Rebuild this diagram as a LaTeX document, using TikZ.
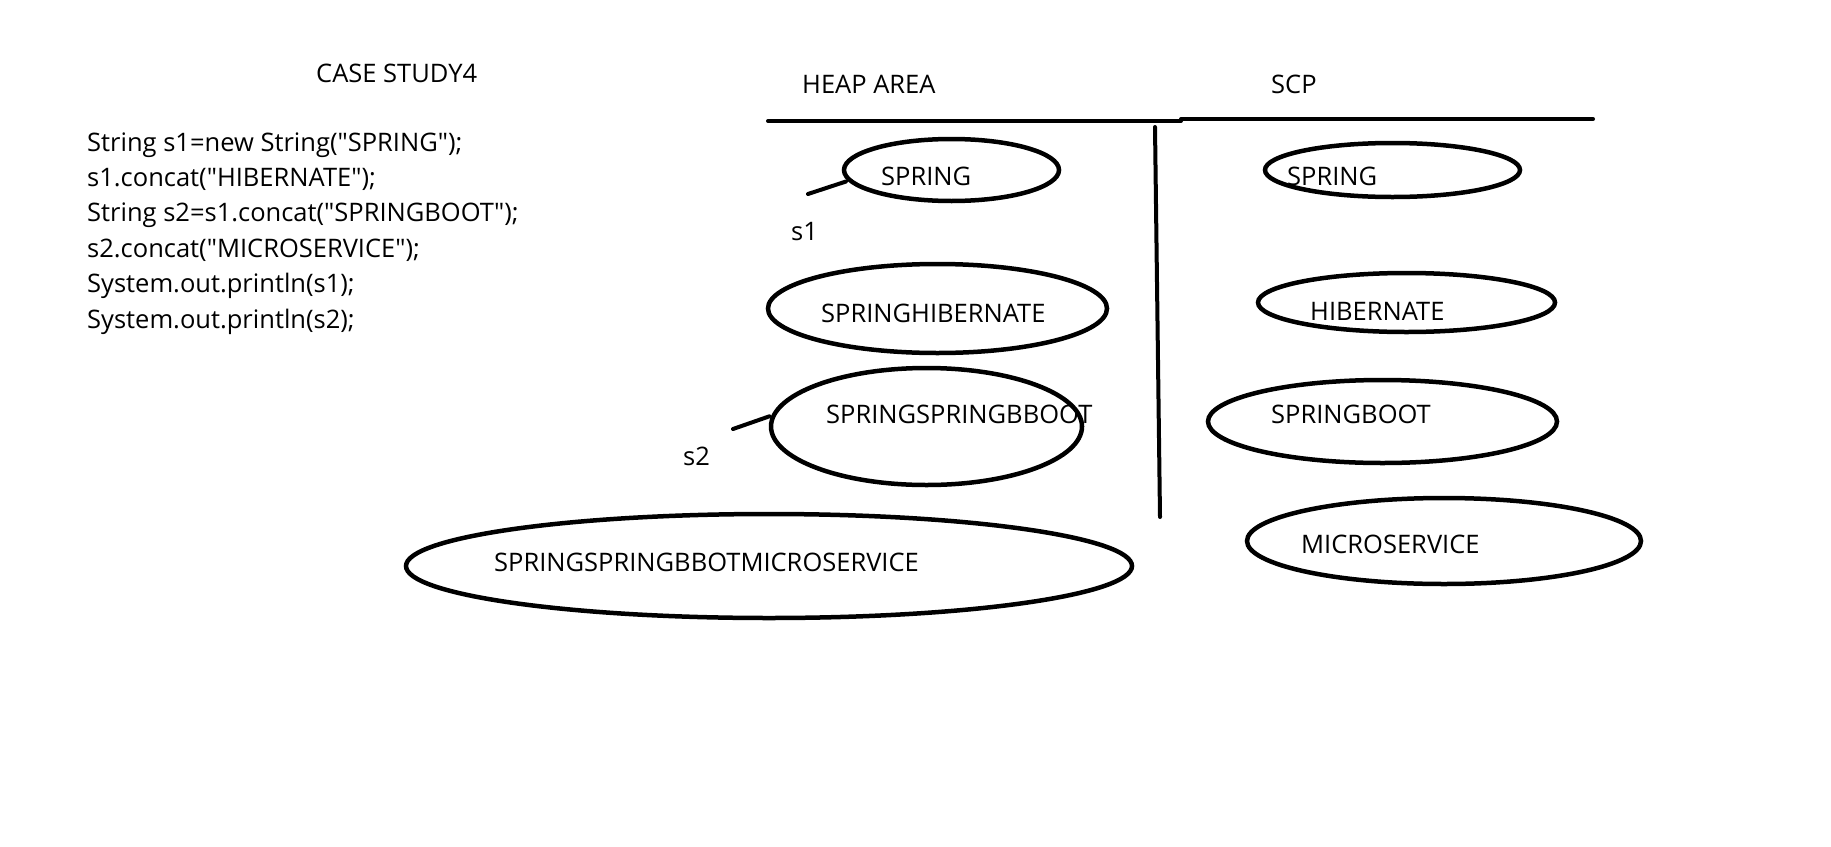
\documentclass[tikz,border=0pt]{standalone}
\usepackage{fontspec}
\newfontfamily\paintfont{Open Sans}
\usepackage{tikz}
\usetikzlibrary{shapes.geometric}

\tikzset{
	blob/.style={draw, ellipse, line width=4.5pt, inner sep=0pt},
	lbl/.style={anchor=base west, inner sep=0pt, font=\paintfont\fontsize{25.5}{30}\selectfont},
	stroke/.style={line width=4pt, line cap=round}
}

\begin{document}
\begin{tikzpicture}[x=1pt,y=-1pt]
\useasboundingbox (0,0) rectangle (1831,846);

% code
\node[lbl] (title) at (316,82) {CASE STUDY4};
\foreach \t [count=\i] in {{String s1=new String("SPRING");},{s1.concat("HIBERNATE");},{String s2=s1.concat("SPRINGBOOT");},{s2.concat("MICROSERVICE");},{System.out.println(s1);},{System.out.println(s2);}}
	\node[lbl] (code\i) at (87,151+35.4*\i-35.4) {\t};

% headings
\node[lbl] (heap) at (802,93) {HEAP AREA};
\node[lbl] (scp) at (1271,93) {SCP};
\draw [stroke] (768,121) -- (1181,121);
\draw [stroke] (1181,119) -- (1593,119);
\draw [stroke] (1155,127) -- (1160,517);

% heap area
\node[blob, minimum width=215pt, minimum height=62pt] (hSpring) at (951.5,170) {};
\node[lbl] at (881,185) {SPRING};
\node[blob, minimum width=339pt, minimum height=89pt] (hHiber) at (937.5,308.5) {};
\node[lbl] at (821,322) {SPRINGHIBERNATE};
\node[blob, minimum width=311pt, minimum height=117pt] (hBoot) at (926.5,426.5) {};
\node[lbl] at (826,423) {SPRINGSPRINGBBOOT};
\node[blob, minimum width=726pt, minimum height=104pt] (hMicro) at (769,566) {};
\node[lbl] at (494,571) {SPRINGSPRINGBBOTMICROSERVICE};

% references
\coordinate (s1end) at (808,194);
\coordinate (s2end) at (733,429);
\draw [stroke, shorten >=2pt] (s1end) -- (hSpring.186);
\draw [stroke, shorten >=2pt] (s2end) -- (hBoot.176);
\node[lbl] (s1) at (791,240) {s1};
\node[lbl] (s2) at (683,465) {s2};

% scp
\node[blob, minimum width=255pt, minimum height=54pt] (sSpring) at (1392.5,170) {};
\node[lbl] at (1287,185) {SPRING};
\node[blob, minimum width=297pt, minimum height=59pt] (sHiber) at (1406.5,302.5) {};
\node[lbl] at (1310,320.5) {HIBERNATE};
\node[blob, minimum width=349pt, minimum height=83pt] (sBoot) at (1382.5,421.5) {};
\node[lbl] at (1271,423) {SPRINGBOOT};
\node[blob, minimum width=394pt, minimum height=86pt] (sMicro) at (1444,541) {};
\node[lbl] at (1301,553) {MICROSERVICE};

\end{tikzpicture}
\end{document}
